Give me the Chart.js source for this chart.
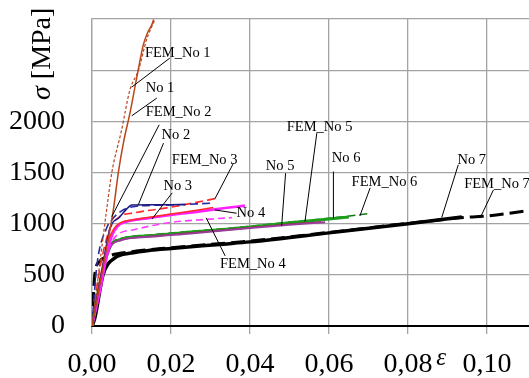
<!DOCTYPE html>
<html><head><meta charset="utf-8">
<script src="https://cdn.jsdelivr.net/npm/chart.js@4.4.1/dist/chart.umd.min.js"></script>
<style>html,body{margin:0;padding:0;background:#fff;overflow:hidden}#wrap{width:529px;height:378px;position:relative}</style>
</head><body><div id="wrap"><canvas id="c" width="529" height="378"></canvas></div>
<script>
// ---- axes ----
const xTickValues = [0, 0.02, 0.04, 0.06, 0.08, 0.10];
const xTickLabels = ['0,00', '0,02', '0,04', '0,06', '0,08', '0,10'];
const yTickValues = [0, 500, 1000, 1500, 2000, 2500, 3000];
const yTickLabels = ['0', '500', '1000', '1500', '2000', '', ''];
const xAxisTitle = 'ε';
const yAxisSymbol = 'σ';
const yAxisUnit = ' [MPa]';

// ---- series (strain, stress in MPa) ----
const seriesNames = ['No 1','FEM_No 1','No 2','FEM_No 2','No 3','FEM_No 3','No 4','FEM_No 4','No 5','FEM_No 5','No 6','FEM_No 6','No 7','FEM_No 7'];

const no1Strain = [0, 0.0030, 0.0054, 0.0067, 0.0080, 0.0096, 0.0107, 0.0117, 0.0130, 0.0140, 0.0151, 0.0156];
const no1Stress = [0, 620, 1134, 1509, 1800, 2080, 2300, 2504, 2750, 2860, 2940, 2995];
const fem1Strain = [0, 0.0020, 0.0037, 0.0050, 0.0075, 0.0096, 0.0118, 0.0138, 0.0159];
const fem1Stress = [0, 620, 1134, 1496, 1917, 2308, 2504, 2797, 2993];

const no2Strain = [0, 0.0025, 0.0046, 0.0069, 0.0087, 0.0101, 0.0150, 0.0200, 0.0235];
const no2Stress = [0, 540, 960, 1060, 1140, 1183, 1184, 1186, 1188];
const fem2Strain = [0, 0.0012, 0.0037, 0.0050, 0.0075, 0.0113, 0.0200, 0.0300];
const fem2Stress = [0, 580, 958, 1037, 1125, 1170, 1182, 1200];

const no3Strain = [0, 0.0020, 0.0040, 0.0055, 0.0071, 0.0105, 0.0200, 0.0273, 0.0307];
const no3Stress = [0, 450, 820, 950, 1007, 1039, 1095, 1137, 1158];
const fem3Strain = [0, 0.0015, 0.0030, 0.0046, 0.0071, 0.0105, 0.0189, 0.0299, 0.0320];
const fem3Stress = [0, 450, 750, 958, 1071, 1105, 1154, 1235, 1252];

const no4Strain = [0, 0.0020, 0.0036, 0.0050, 0.0065, 0.0080, 0.0147, 0.0273, 0.0337, 0.0387];
const no4Stress = [0, 340, 660, 880, 975, 1010, 1056, 1120, 1153, 1176];
const fem4Strain = [0, 0.0020, 0.0040, 0.0055, 0.0071, 0.0105, 0.0189, 0.0316, 0.0354];
const fem4Stress = [0, 400, 720, 850, 909, 941, 1007, 1049, 1059];

const no5Strain = [0, 0.0020, 0.0046, 0.0071, 0.0147, 0.0250, 0.0400, 0.0500, 0.0590];
const no5Stress = [0, 420, 770, 835, 872, 905, 958, 990, 1013];
const fem5Strain = [0, 0.0020, 0.0046, 0.0071, 0.0147, 0.0250, 0.0400, 0.0500, 0.0580];
const fem5Stress = [0, 430, 775, 838, 875, 910, 962, 995, 1018];

const no6Strain = [0, 0.0020, 0.0046, 0.0071, 0.0147, 0.0250, 0.0340, 0.0400, 0.0500, 0.0600, 0.0650];
const no6Stress = [0, 420, 777, 843, 882, 918, 945, 968, 1008, 1046, 1065];
const fem6Strain = [0, 0.0020, 0.0046, 0.0071, 0.0147, 0.0250, 0.0340, 0.0400, 0.0500, 0.0600, 0.0705];
const fem6Stress = [0, 440, 790, 852, 890, 925, 952, 975, 1015, 1052, 1100];

const no7Strain = [0, 0.0007, 0.0028, 0.0057, 0.0100, 0.0147, 0.0200, 0.0332, 0.0400, 0.0600, 0.0800, 0.0936];
const no7Stress = [0, 75, 500, 664, 713, 740, 758, 800, 822, 910, 1000, 1066];
const fem7Strain = [0, 0.0007, 0.0019, 0.0040, 0.0100, 0.0200, 0.0400, 0.0600, 0.0800, 0.0940, 0.0990, 0.1106, 0.1150];
const fem7Stress = [0, 500, 630, 680, 725, 765, 830, 915, 1003, 1060, 1072, 1128, 1150];

const strains = [no1Strain, fem1Strain, no2Strain, fem2Strain, no3Strain, fem3Strain, no4Strain, fem4Strain, no5Strain, fem5Strain, no6Strain, fem6Strain, no7Strain, fem7Strain];
const stresses = [no1Stress, fem1Stress, no2Stress, fem2Stress, no3Stress, fem3Stress, no4Stress, fem4Stress, no5Stress, fem5Stress, no6Stress, fem6Stress, no7Stress, fem7Stress];

// ---- styles ----
const styles = [
  {c:'#b8461a', w:1.5, d:[]},
  {c:'#b8461a', w:1.2, d:[3,2]},
  {c:'#1a1a85', w:1.5, d:[]},
  {c:'#2a2aa5', w:1.6, d:[8,4]},
  {c:'#ff2a2a', w:1.5, d:[]},
  {c:'#ff2a2a', w:1.6, d:[8,4]},
  {c:'#ff20ff', w:2.6, d:[]},
  {c:'#ff40ff', w:1.6, d:[7,4]},
  {c:'#9a3c9a', w:2.0, d:[]},
  {c:'#9c1a1a', w:1.2, d:[]},
  {c:'#1e9e1e', w:3.0, d:[]},
  {c:'#0f7a0f', w:1.6, d:[8,4]},
  {c:'#000000', w:3.5, d:[]},
  {c:'#000000', w:3.0, d:[14,6]}
];

// ---- annotations (data units) ----
const annotations = [
  {t:'FEM_No 1', tx:0.0134, ty:2670, x1:0.0197, y1:2618, x2:0.01005, y2:2334},
  {t:'No 1',     tx:0.0136, ty:2328, x1:0.0164, y1:2227, x2:0.01005, y2:2054},
  {t:'FEM_No 2', tx:0.0136, ty:2093, x1:0.0170, y1:1966, x2:0.0050, y2:1069},
  {t:'No 2',     tx:0.0176, ty:1868, x1:0.0181, y1:1787, x2:0.0117, y2:1183},
  {t:'FEM_No 3', tx:0.0202, ty:1623, x1:0.0358, y1:1591, x2:0.0311, y2:1242},
  {t:'No 3',     tx:0.0181, ty:1362, x1:0.0203, y1:1301, x2:0.0152, y2:1046},
  {t:'No 4',     tx:0.0366, ty:1105, x1:0.0366, y1:1102, x2:0.0311, y2:1134},
  {t:'FEM_No 4', tx:0.0324, ty:603,  x1:0.0337, y1:685,  x2:0.0289, y2:1056},
  {t:'No 5',     tx:0.0440, ty:1558, x1:0.0490, y1:1493, x2:0.0480, y2:978},
  {t:'FEM_No 5', tx:0.0493, ty:1943, x1:0.0569, y1:1885, x2:0.0539, y2:1020},
  {t:'No 6',     tx:0.0607, ty:1640, x1:0.0611, y1:1509, x2:0.0611, y2:1053},
  {t:'FEM_No 6', tx:0.0657, ty:1401, x1:0.0704, y1:1350, x2:0.0678, y2:1076},
  {t:'No 7',     tx:0.0925, ty:1623, x1:0.0927, y1:1575, x2:0.0885, y2:1059},
  {t:'FEM_No 7', tx:0.0942, ty:1389, x1:0.1016, y1:1330, x2:0.0982, y2:1053}
];

const SERIF = '"Liberation Serif", "Times New Roman", serif';
const GRID = '#a3a3a3';

const datasets = seriesNames.map((name, i) => ({
  label: name,
  data: strains[i].map((x, k) => ({x: x, y: stresses[i][k]})),
  borderColor: styles[i].c,
  borderWidth: styles[i].w,
  borderDash: styles[i].d,
  pointRadius: 0,
  fill: false,
  cubicInterpolationMode: 'monotone',
  order: i
}));

const overlay = {
  id: 'overlay',
  afterDatasetsDraw(chart) {
    const ctx = chart.ctx, xs = chart.scales.x, ys = chart.scales.y;
    ctx.save();
    ctx.strokeStyle = '#000'; ctx.lineWidth = 1;
    annotations.forEach(a => {
      ctx.beginPath();
      ctx.moveTo(xs.getPixelForValue(a.x1), ys.getPixelForValue(a.y1));
      ctx.lineTo(xs.getPixelForValue(a.x2), ys.getPixelForValue(a.y2));
      ctx.stroke();
    });
    ctx.fillStyle = '#000';
    ctx.font = '14.5px ' + SERIF;
    ctx.textAlign = 'left'; ctx.textBaseline = 'middle';
    annotations.forEach(a => {
      ctx.fillText(a.t, xs.getPixelForValue(a.tx), ys.getPixelForValue(a.ty));
    });
    ctx.restore();
  },
  afterDraw(chart) {
    const ctx = chart.ctx, area = chart.chartArea, xs = chart.scales.x;
    ctx.save();
    ctx.fillStyle = '#000';
    ctx.translate(area.left - 42, area.top + 81);
    ctx.rotate(-Math.PI / 2);
    ctx.textAlign = 'left'; ctx.textBaseline = 'alphabetic';
    ctx.font = 'italic 28px ' + SERIF;
    ctx.fillText(yAxisSymbol, 0, 0);
    const w = ctx.measureText(yAxisSymbol).width;
    ctx.font = '28px ' + SERIF;
    ctx.fillText(yAxisUnit, w, 0);
    ctx.restore();
    ctx.save();
    ctx.fillStyle = '#000';
    ctx.font = 'italic 25px ' + SERIF;
    ctx.textAlign = 'center'; ctx.textBaseline = 'alphabetic';
    ctx.fillText(xAxisTitle, xs.getPixelForValue(0.0884), area.bottom + 39);
    ctx.restore();
  }
};

new Chart(document.getElementById('c'), {
  type: 'line',
  data: { datasets },
  options: {
    responsive: false,
    animation: false,
    devicePixelRatio: 1,
    layout: { padding: { top: 19, right: 0, left: 0, bottom: 0 } },
    plugins: { legend: { display: false }, tooltip: { enabled: false } },
    scales: {
      x: {
        type: 'linear', min: 0, max: 0.1106,
        afterBuildTicks: s => { s.ticks = xTickValues.map(v => ({value: v})); },
        afterFit: s => { s.height = 52; s.paddingLeft = 0; s.paddingRight = 0; },
        ticks: {
          autoSkip: false, maxRotation: 0, padding: 17, color: '#000',
          font: { family: SERIF, size: 28, lineHeight: 1 },
          callback: (v, i) => xTickLabels[i]
        },
        grid: { color: GRID, lineWidth: 1.3, drawTicks: true, tickLength: 8, tickColor: GRID },
        border: { color: '#000', width: 2 }
      },
      y: {
        type: 'linear', min: 0, max: 3000,
        afterBuildTicks: s => { s.ticks = yTickValues.map(v => ({value: v})); },
        afterFit: s => { s.width = 92; s.paddingTop = 0; s.paddingBottom = 0; },
        ticks: {
          autoSkip: false, padding: 27, color: '#000',
          font: { family: SERIF, size: 28, lineHeight: 1 },
          callback: (v, i) => yTickLabels[i]
        },
        grid: { color: GRID, lineWidth: 1.3, drawTicks: false },
        border: { color: GRID, width: 1.3 }
      }
    }
  },
  plugins: [overlay]
});
</script></body></html>
